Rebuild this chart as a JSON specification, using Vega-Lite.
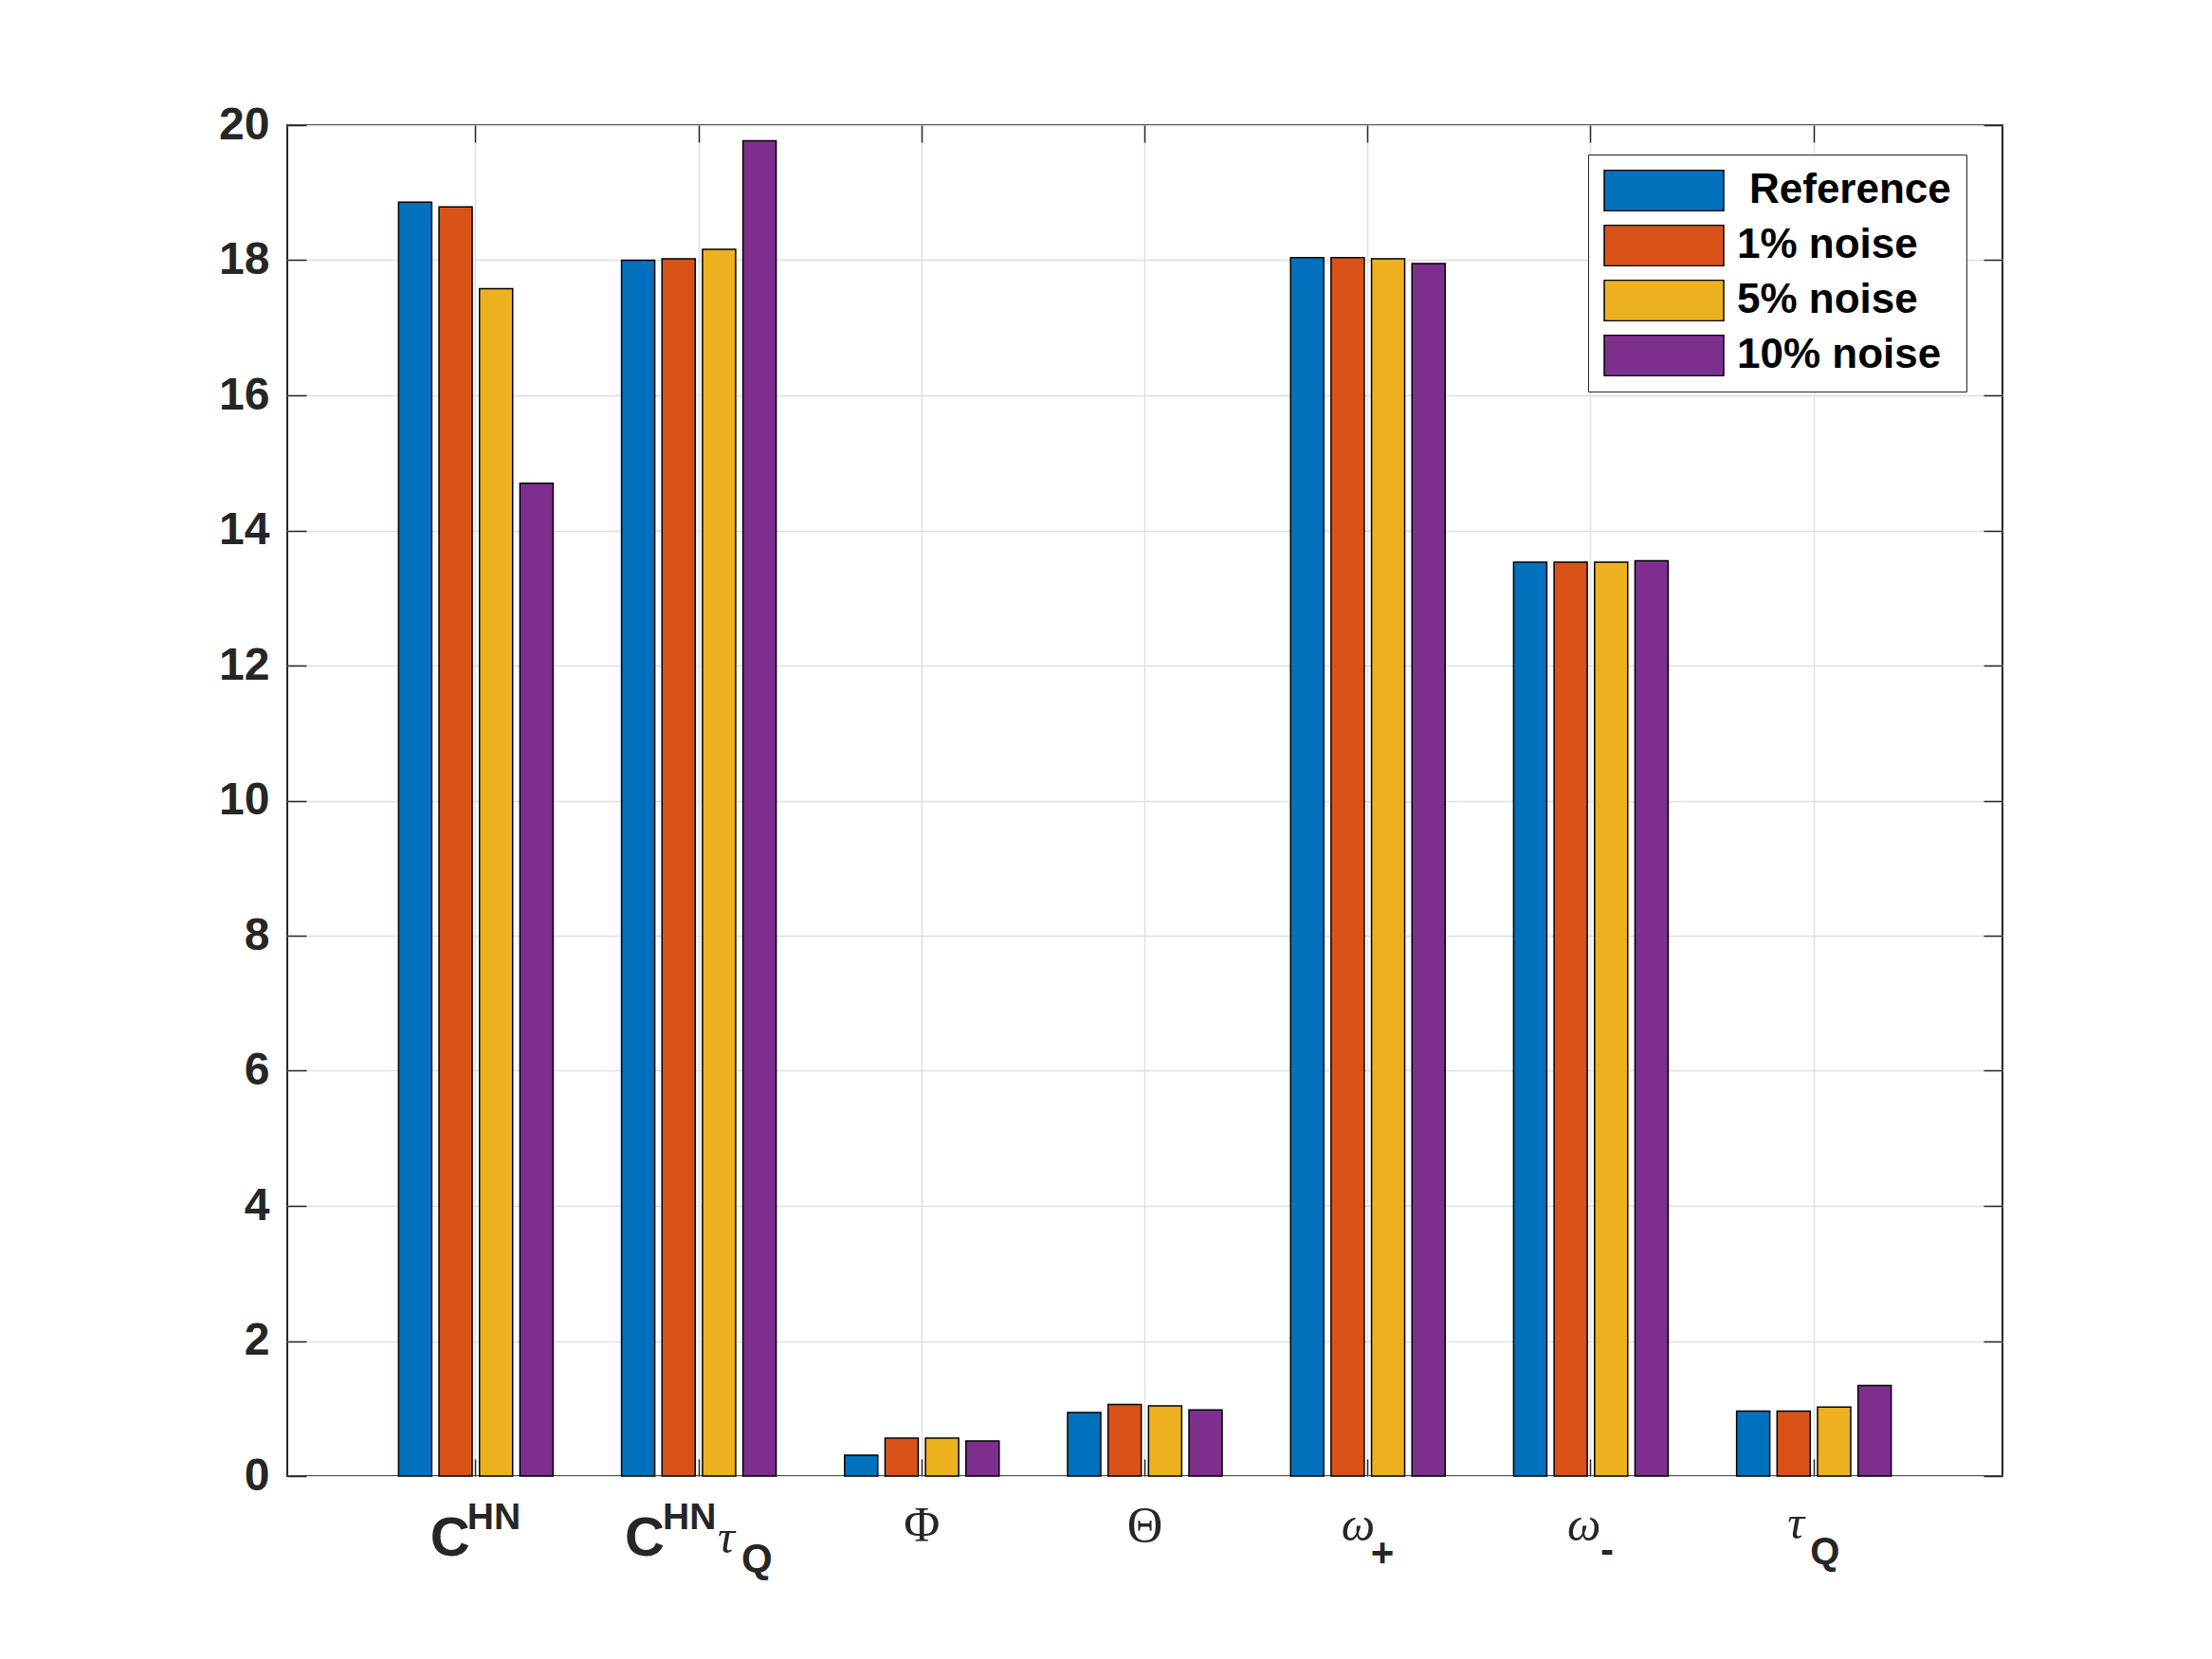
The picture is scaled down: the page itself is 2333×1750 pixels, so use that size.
{
  "$schema": "https://vega.github.io/schema/vega-lite/v6.json",
  "autosize": {"type": "none"},
  "padding": {"left": 303, "top": 132, "right": 221, "bottom": 193},
  "width": 1809,
  "height": 1425,
  "background": "white",
  "config": {
    "view": {"stroke": "#262626", "strokeWidth": 2},
    "axis": {
      "domain": false,
      "title": null,
      "tickColor": "#262626",
      "tickWidth": 1.5,
      "gridColor": "#dfdfdf",
      "gridWidth": 1.5,
      "labelFont": "Liberation Sans",
      "labelFontWeight": "bold",
      "labelColor": "#262626"
    },
    "text": {"font": "Liberation Sans", "color": "#262626", "baseline": "alphabetic", "align": "left"}
  },
  "data": {
    "values": [
      {"param": "C^HN", "series": "Reference", "value": 18.86},
      {"param": "C^HN", "series": "1% noise", "value": 18.79},
      {"param": "C^HN", "series": "5% noise", "value": 17.58},
      {"param": "C^HN", "series": "10% noise", "value": 14.70},
      {"param": "C^HN_τQ", "series": "Reference", "value": 18.00},
      {"param": "C^HN_τQ", "series": "1% noise", "value": 18.02},
      {"param": "C^HN_τQ", "series": "5% noise", "value": 18.16},
      {"param": "C^HN_τQ", "series": "10% noise", "value": 19.77},
      {"param": "Φ", "series": "Reference", "value": 0.31},
      {"param": "Φ", "series": "1% noise", "value": 0.56},
      {"param": "Φ", "series": "5% noise", "value": 0.56},
      {"param": "Φ", "series": "10% noise", "value": 0.52},
      {"param": "Θ", "series": "Reference", "value": 0.94},
      {"param": "Θ", "series": "1% noise", "value": 1.06},
      {"param": "Θ", "series": "5% noise", "value": 1.04},
      {"param": "Θ", "series": "10% noise", "value": 0.98},
      {"param": "ω_+", "series": "Reference", "value": 18.04},
      {"param": "ω_+", "series": "1% noise", "value": 18.04},
      {"param": "ω_+", "series": "5% noise", "value": 18.02},
      {"param": "ω_+", "series": "10% noise", "value": 17.95},
      {"param": "ω_-", "series": "Reference", "value": 13.53},
      {"param": "ω_-", "series": "1% noise", "value": 13.53},
      {"param": "ω_-", "series": "5% noise", "value": 13.53},
      {"param": "ω_-", "series": "10% noise", "value": 13.55},
      {"param": "τ_Q", "series": "Reference", "value": 0.96},
      {"param": "τ_Q", "series": "1% noise", "value": 0.96},
      {"param": "τ_Q", "series": "5% noise", "value": 1.02},
      {"param": "τ_Q", "series": "10% noise", "value": 1.34}
    ]
  },
  "resolve": {"axis": {"x": "independent", "y": "independent"}},
  "layer": [
    {
      "mark": {"type": "bar", "stroke": "black", "strokeWidth": 1.5},
      "encoding": {
        "x": {
          "field": "param",
          "type": "nominal",
          "scale": {
            "domain": ["C^HN", "C^HN_τQ", "Φ", "Θ", "ω_+", "ω_-", "τ_Q"],
            "paddingInner": 0.307,
            "paddingOuter": 0.499
          },
          "axis": {"orient": "bottom", "labels": false, "tickSize": -18, "bandPosition": 0.5, "grid": true}
        },
        "xOffset": {
          "field": "series",
          "type": "nominal",
          "scale": {"domain": ["Reference", "1% noise", "5% noise", "10% noise"], "paddingInner": 0.18, "paddingOuter": 0}
        },
        "y": {
          "field": "value",
          "type": "quantitative",
          "scale": {"domain": [0, 20], "nice": false},
          "axis": {
            "orient": "left",
            "values": [0, 2, 4, 6, 8, 10, 12, 14, 16, 18, 20],
            "tickSize": -20,
            "labelPadding": 39,
            "labelFontSize": 48,
            "grid": true
          }
        },
        "color": {
          "field": "series",
          "type": "nominal",
          "scale": {
            "domain": ["Reference", "1% noise", "5% noise", "10% noise"],
            "range": ["#0072BD", "#D95319", "#EDB120", "#7E2F8E"]
          },
          "legend": {
            "orient": "none",
            "legendX": 1372,
            "legendY": 31,
            "title": null,
            "padding": 16,
            "strokeColor": "#262626",
            "fillColor": "white",
            "symbolType": "M-1,-0.34H1V0.34H-1Z",
            "symbolSize": 15876,
            "symbolStrokeColor": "black",
            "symbolStrokeWidth": 1.5,
            "symbolOpacity": 1,
            "labelFont": "Liberation Sans",
            "labelFontWeight": "bold",
            "labelFontSize": 44,
            "labelColor": "black",
            "labelOffset": 13,
            "labelLimit": 0,
            "rowPadding": 14,
            "clipHeight": 44,
            "encode": {
              "labels": {"update": {"dx": {"signal": "datum.label == 'Reference' ? 13 : 0"}}}
            }
          }
        }
      }
    },
    {
      "mark": {"type": "point", "opacity": 0},
      "encoding": {
        "x": {"field": "param", "type": "nominal", "axis": {"orient": "top", "labels": false, "tickSize": -18, "bandPosition": 0.5, "grid": false}},
        "y": {"field": "value", "type": "quantitative", "axis": {"orient": "right", "labels": false, "tickSize": -20, "grid": false, "values": [0, 2, 4, 6, 8, 10, 12, 14, 16, 18, 20]}}
      }
    },
    {
      "data": {"values": [{"param": "C^HN", "sym": "C"}]},
      "mark": {"type": "text", "fontWeight": "bold", "fontSize": 58, "dx": -48, "dy": 84},
      "encoding": {
        "x": {"field": "param", "type": "nominal", "axis": null},
        "y": {"datum": 0, "type": "quantitative", "axis": null},
        "text": {"field": "sym"}
      }
    },
    {
      "data": {"values": [{"param": "C^HN_τQ", "sym": "C"}]},
      "mark": {"type": "text", "fontWeight": "bold", "fontSize": 58, "dx": -78, "dy": 84},
      "encoding": {
        "x": {"field": "param", "type": "nominal", "axis": null},
        "y": {"datum": 0, "type": "quantitative", "axis": null},
        "text": {"field": "sym"}
      }
    },
    {
      "data": {"values": [{"param": "C^HN", "sym": "HN"}]},
      "mark": {"type": "text", "fontWeight": "bold", "fontSize": 39, "dx": -9, "dy": 56},
      "encoding": {
        "x": {"field": "param", "type": "nominal", "axis": null},
        "y": {"datum": 0, "type": "quantitative", "axis": null},
        "text": {"field": "sym"}
      }
    },
    {
      "data": {"values": [{"param": "C^HN_τQ", "sym": "HN"}]},
      "mark": {"type": "text", "fontWeight": "bold", "fontSize": 39, "dx": -38, "dy": 56},
      "encoding": {
        "x": {"field": "param", "type": "nominal", "axis": null},
        "y": {"datum": 0, "type": "quantitative", "axis": null},
        "text": {"field": "sym"}
      }
    },
    {
      "data": {"values": [{"param": "C^HN_τQ", "sym": "τ"}]},
      "mark": {"type": "text", "font": "Liberation Serif", "fontStyle": "italic", "fontSize": 50, "dx": 20, "dy": 81},
      "encoding": {
        "x": {"field": "param", "type": "nominal", "axis": null},
        "y": {"datum": 0, "type": "quantitative", "axis": null},
        "text": {"field": "sym"}
      }
    },
    {
      "data": {"values": [{"param": "C^HN_τQ", "sym": "Q"}]},
      "mark": {"type": "text", "fontWeight": "bold", "fontSize": 42, "dx": 45, "dy": 101},
      "encoding": {
        "x": {"field": "param", "type": "nominal", "axis": null},
        "y": {"datum": 0, "type": "quantitative", "axis": null},
        "text": {"field": "sym"}
      }
    },
    {
      "data": {"values": [{"param": "Φ", "sym": "Φ"}, {"param": "Θ", "sym": "Θ"}]},
      "mark": {"type": "text", "font": "Liberation Serif", "fontSize": 52, "align": "center", "dy": 69},
      "encoding": {
        "x": {"field": "param", "type": "nominal", "axis": null},
        "y": {"datum": 0, "type": "quantitative", "axis": null},
        "text": {"field": "sym"}
      }
    },
    {
      "data": {"values": [{"param": "ω_+", "sym": "ω"}]},
      "mark": {"type": "text", "font": "Liberation Serif", "fontStyle": "italic", "fontSize": 50, "dx": -28, "dy": 68},
      "encoding": {
        "x": {"field": "param", "type": "nominal", "axis": null},
        "y": {"datum": 0, "type": "quantitative", "axis": null},
        "text": {"field": "sym"}
      }
    },
    {
      "data": {"values": [{"param": "ω_+", "sym": "+"}]},
      "mark": {"type": "text", "fontWeight": "bold", "fontSize": 42, "dx": 3, "dy": 95},
      "encoding": {
        "x": {"field": "param", "type": "nominal", "axis": null},
        "y": {"datum": 0, "type": "quantitative", "axis": null},
        "text": {"field": "sym"}
      }
    },
    {
      "data": {"values": [{"param": "ω_-", "sym": "ω"}]},
      "mark": {"type": "text", "font": "Liberation Serif", "fontStyle": "italic", "fontSize": 50, "dx": -25, "dy": 68},
      "encoding": {
        "x": {"field": "param", "type": "nominal", "axis": null},
        "y": {"datum": 0, "type": "quantitative", "axis": null},
        "text": {"field": "sym"}
      }
    },
    {
      "data": {"values": [{"param": "ω_-", "sym": "-"}]},
      "mark": {"type": "text", "fontWeight": "bold", "fontSize": 42, "dx": 10, "dy": 92},
      "encoding": {
        "x": {"field": "param", "type": "nominal", "axis": null},
        "y": {"datum": 0, "type": "quantitative", "axis": null},
        "text": {"field": "sym"}
      }
    },
    {
      "data": {"values": [{"param": "τ_Q", "sym": "τ"}]},
      "mark": {"type": "text", "font": "Liberation Serif", "fontStyle": "italic", "fontSize": 50, "dx": -28, "dy": 66},
      "encoding": {
        "x": {"field": "param", "type": "nominal", "axis": null},
        "y": {"datum": 0, "type": "quantitative", "axis": null},
        "text": {"field": "sym"}
      }
    },
    {
      "data": {"values": [{"param": "τ_Q", "sym": "Q"}]},
      "mark": {"type": "text", "fontWeight": "bold", "fontSize": 40, "dx": -4, "dy": 93},
      "encoding": {
        "x": {"field": "param", "type": "nominal", "axis": null},
        "y": {"datum": 0, "type": "quantitative", "axis": null},
        "text": {"field": "sym"}
      }
    }
  ]
}
